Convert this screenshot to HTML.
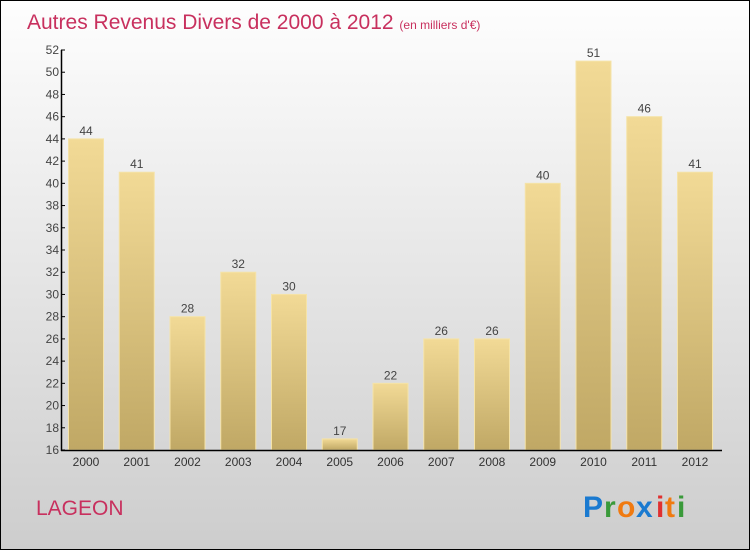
<!DOCTYPE html>
<html><head><meta charset="utf-8"><style>
body{margin:0}
#c{position:relative;width:748px;height:548px;border:1px solid #000;background:linear-gradient(#fefefe,#cdcdcd);font-family:"Liberation Sans",sans-serif;overflow:hidden}
</style></head><body>
<div id="c">
<svg width="748" height="548">
<defs><linearGradient id="bg" x1="0" y1="0" x2="0" y2="1"><stop offset="0" stop-color="#f2da96"/><stop offset="1" stop-color="#c0a865"/></linearGradient></defs>
<text x="26" y="28" font-size="21" fill="#c8305e">Autres Revenus Divers de 2000 à 2012 <tspan font-size="12">(en milliers d'€)</tspan></text>
<g id="plot"></g>
<text x="35" y="514" font-size="21" fill="#c8305e">LAGEON</text>
<g font-size="30" font-weight="bold" font-family="Liberation Sans, sans-serif">
<text x="582" y="516" fill="#1a7ad0">P</text><text x="603" y="516" fill="#3a9a3a">r</text><text x="616" y="516" fill="#f07a10">o</text><text x="635" y="516" fill="#1a7ad0">x</text><text x="655" y="516" fill="#e03030">i</text><text x="664" y="516" fill="#f07a10">t</text><text x="676" y="516" fill="#3a9a3a">i</text>
</g>
</svg>
</div>
<script>
const categories=["2000","2001","2002","2003","2004","2005","2006","2007","2008","2009","2010","2011","2012"];
const values=[44,41,28,32,30,17,22,26,26,40,51,46,41];
const yTicks=[16,18,20,22,24,26,28,30,32,34,36,38,40,42,44,46,48,50,52];
const NS="http://www.w3.org/2000/svg";
const g=document.getElementById('plot');
const y0=449,yMin=16,yMax=52,ppu=400/36;
const y=v=>y0-(v-yMin)*ppu;
const x=i=>85+i*50.75;
function el(t,a){const e=document.createElementNS(NS,t);for(const k in a)e.setAttribute(k,a[k]);g.appendChild(e);return e;}
values.forEach((v,i)=>{
 const r=el('rect',{x:x(i)-17.5,y:y(v),width:35,height:y0-y(v),fill:'url(#bg)',stroke:'#f5e3a8','stroke-width':1});
 
 
 const t=el('text',{x:x(i),y:y(v)-4,'text-anchor':'middle','font-size':12,fill:'#444'});t.textContent=v;
 
 
 const c=el('text',{x:x(i),y:y0+16,'text-anchor':'middle','font-size':12,fill:'#333'});c.textContent=categories[i];
 
 
});
yTicks.forEach(v=>{
 const l=el('line',{x1:60,x2:64,y1:y(v),y2:y(v),stroke:'#000'});
 
 
 const t=el('text',{x:58,y:y(v)+4,'text-anchor':'end','font-size':12,fill:'#444'});t.textContent=v;
 
 
});
const ya=el('line',{x1:60.5,x2:60.5,y1:y(52),y2:y0+1,stroke:'#000','stroke-width':1.5});


const xa=el('line',{x1:60,x2:721,y1:y0+0.5,y2:y0+0.5,stroke:'#000','stroke-width':1.5});


</script>
</body></html>
